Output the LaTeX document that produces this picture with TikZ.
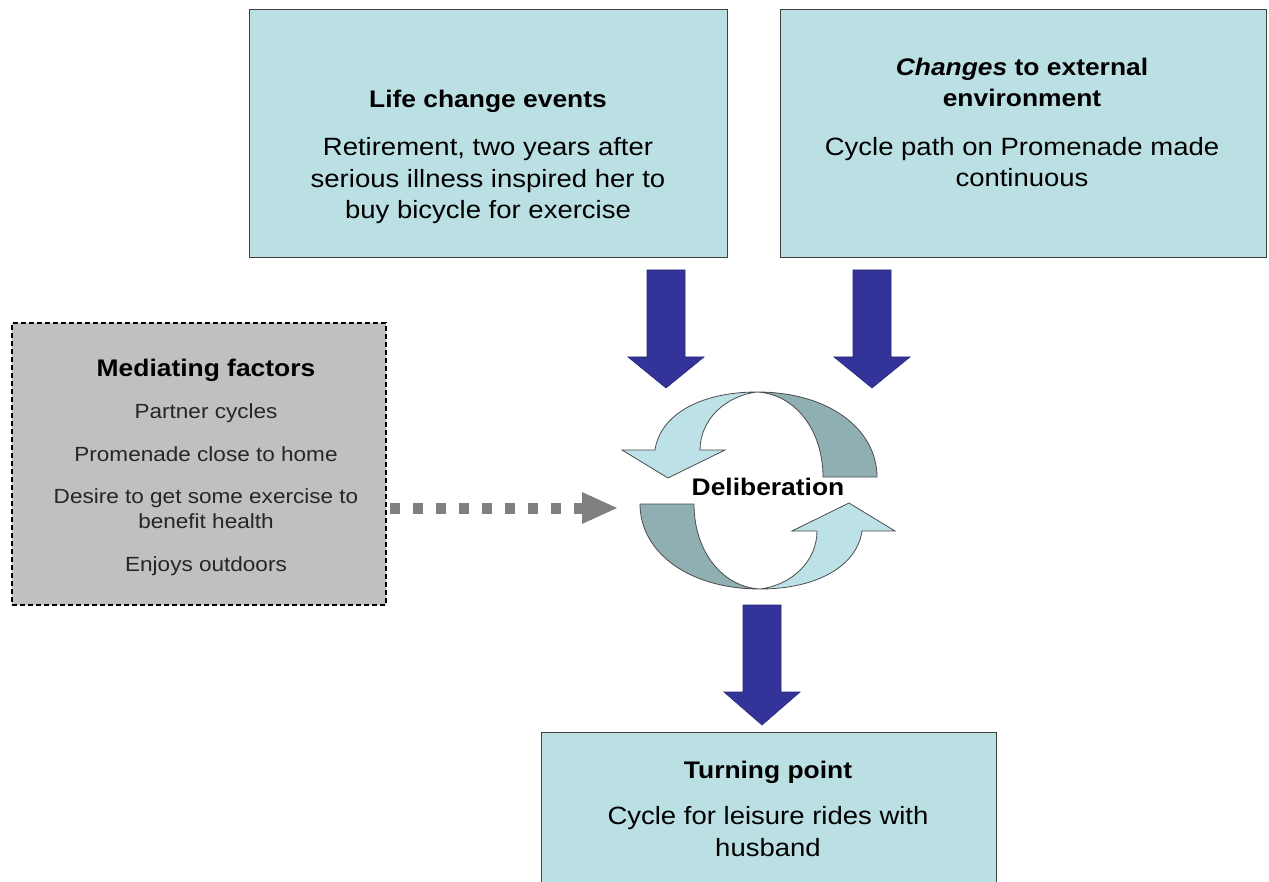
\documentclass[tikz,border=0pt]{standalone}
\usepackage{fontspec}
\setmainfont{Liberation Sans}[FakeStretch=1.1]
\begin{document}
\begin{tikzpicture}[x=1pt,y=-1pt,
  box/.style={draw=black!75, line width=1pt, fill=boxfill, inner sep=0pt},
  medbox/.style={draw=black, line width=1.1pt, dash pattern=on 5pt off 3pt, fill=medfill, inner sep=0pt},
  ttl/.style={font=\fontsize{24}{31.5}\selectfont\bfseries, align=center, inner sep=0pt, anchor=base},
  bodytxt/.style={font=\fontsize{25}{31.5}\selectfont, align=center, inner sep=0pt, anchor=base},
  medtxt/.style={font=\fontsize{20.5}{25}\selectfont, align=center, inner sep=0pt, anchor=base, text=black!85},
  blockarrow/.style={fill=arrowblue, draw=arrowblue!80!black, line width=0.6pt},
  ribbonlight/.style={fill=ribbonlight, draw=black!70, line width=0.8pt},
  ribbondark/.style={fill=ribbondark, draw=black!70, line width=0.8pt}
]
\definecolor{boxfill}{RGB}{187,224,228}
\definecolor{medfill}{RGB}{192,192,192}
\definecolor{arrowblue}{RGB}{51,51,153}
\definecolor{ribbonlight}{RGB}{188,226,231}
\definecolor{ribbondark}{RGB}{143,175,178}
\definecolor{dotgray}{RGB}{128,128,128}
\useasboundingbox (0,0) rectangle (1269,882);
\fill[white] (0,0) rectangle (1269,882);
\clip (0,0) rectangle (1269,882);

% boxes
\node[box, minimum width=478pt, minimum height=248pt] (life) at (488,134) {};
\node[box, minimum width=486pt, minimum height=248pt] (env) at (1023,134) {};
\node[medbox, minimum width=374pt, minimum height=282pt] (med) at (199,464) {};
\node[box, minimum width=455pt, minimum height=160pt] (turn) at (768.5,812) {};

% texts (base anchor of a multi-line node = baseline of its last line)
\node[ttl] (lifet) at (488,108) {Life change events};
\node[bodytxt] (lifeb) at (488,219) {Retirement, two years after\\serious illness inspired her to\\buy bicycle for exercise};
\node[ttl] (envt) at (1022,107) {\textit{Changes} to external\\environment};
\node[bodytxt] (envb) at (1022,187) {Cycle path on Promenade made\\continuous};
\node[ttl] (medt) at (206,377) {Mediating factors};
\node[medtxt] (m1) at (206,418) {Partner cycles};
\node[medtxt] (m2) at (206,461) {Promenade close to home};
\node[medtxt] (m3) at (206,528) {Desire to get some exercise to\\benefit health};
\node[medtxt] (m4) at (206,571) {Enjoys outdoors};
\node[ttl] (turnt) at (768,778) {Turning point};
\node[bodytxt] (turnb) at (768,856) {Cycle for leisure rides with\\husband};

% blue block arrows
\fill[blockarrow] (647,270) -- (685,270) -- (685,357) -- (704,357) -- (666,388) -- (628,357) -- (647,357) -- cycle;
\fill[blockarrow] (853,270) -- (891,270) -- (891,357) -- (910,357) -- (872,388) -- (834,357) -- (853,357) -- cycle;
\fill[blockarrow] (743,605) -- (781,605) -- (781,692) -- (800,692) -- (762,725) -- (724,692) -- (743,692) -- cycle;

% gray dotted arrow
\coordinate (gs) at (390,508);
\coordinate (ge) at (584,508);
\draw[dotgray, line width=11pt, dash pattern=on 10pt off 13pt] (gs) -- (ge);
\fill[dotgray] (582,492) -- (617,508) -- (582,524) -- cycle;

% circular arrows
\foreach \ang in {0,180}{
\begin{scope}[rotate around={\ang:(758.5,490.5)}]
  \path[ribbondark] (757,392) .. controls (830,392) and (877,430) .. (877,477)
     -- (823,477) .. controls (823,430) and (795,394) .. (757,392) -- cycle;
  \path[ribbonlight] (655,450) .. controls (660,415) and (700,392) .. (757,392)
     .. controls (725,396) and (700,420) .. (700,450)
     -- (725,450) -- (668,478) -- (622,450) -- cycle;
\end{scope}
}
\node[ttl] (delib) at (768,495) {Deliberation};
\end{tikzpicture}
\end{document}
